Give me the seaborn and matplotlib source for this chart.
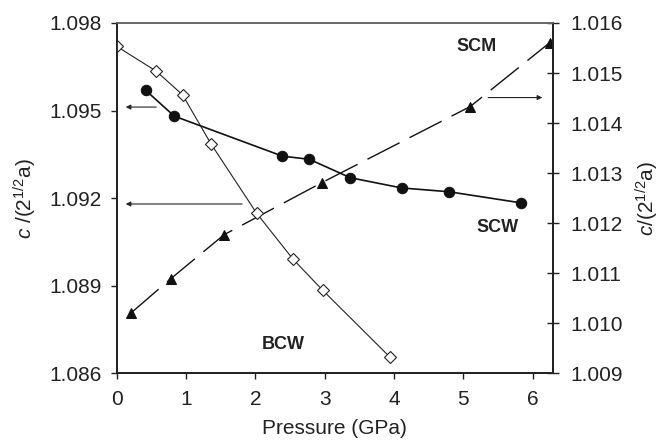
import matplotlib
matplotlib.use("Agg")
import matplotlib.pyplot as plt
import seaborn as sns
import pandas as pd

# BCW (left axis, open diamonds)
bcw_p = [0.0, 0.57, 0.95, 1.36, 2.02, 2.54, 2.97, 3.94]
bcw_r = [1.0972, 1.09635, 1.09554, 1.09386, 1.09148, 1.08992, 1.08885, 1.08656]
# SCW (left axis, filled circles)
scw_p = [0.42, 0.83, 2.39, 2.78, 3.37, 4.11, 4.79, 5.83]
scw_r = [1.09569, 1.09481, 1.09344, 1.09333, 1.0927, 1.09235, 1.09222, 1.09184]
# SCM (right axis, filled triangles)
scm_p = [0.21, 0.78, 1.55, 2.96, 5.10, 6.25]
scm_r = [1.01021, 1.01089, 1.01177, 1.01281, 1.01433, 1.01561]

left_ticks = [1.086, 1.089, 1.092, 1.095, 1.098]
right_ticks = [1.009, 1.010, 1.011, 1.012, 1.013, 1.014, 1.015, 1.016]
x_ticks = [0, 1, 2, 3, 4, 5, 6]

sns.set_theme(style="white")
plt.rcParams['font.family'] = ['Liberation Sans', 'DejaVu Sans']
plt.rcParams['mathtext.fontset'] = 'custom'
plt.rcParams['mathtext.rm'] = 'Liberation Sans'
plt.rcParams['mathtext.it'] = 'Liberation Sans:italic'

fig = plt.figure(figsize=(6.6, 4.42), dpi=100)
ax = fig.add_axes([0.1768, 0.1554, 0.6606, 0.7926])
ax2 = ax.twinx()

bcw = pd.DataFrame({"p": bcw_p, "r": bcw_r})
scw = pd.DataFrame({"p": scw_p, "r": scw_r})
scm = pd.DataFrame({"p": scm_p, "r": scm_r})

sns.lineplot(data=bcw, x="p", y="r", ax=ax, color="#222222", lw=0.8,
             marker="D", markersize=6.5, markerfacecolor="white",
             markeredgecolor="#222222", markeredgewidth=0.8,
             estimator=None, sort=False)
sns.lineplot(data=scw, x="p", y="r", ax=ax, color="#111111", lw=1.2,
             marker="o", markersize=7.5, markerfacecolor="#111111",
             markeredgecolor="#111111", estimator=None, sort=False)
sns.lineplot(data=scm, x="p", y="r", ax=ax2, color="#111111", lw=1.0,
             marker="^", markersize=7.5, markerfacecolor="#111111",
             markeredgecolor="#111111", estimator=None, sort=False,
             dashes=False)
ax2.lines[-1].set_dashes((26, 8))

ax.set_xlim(0, 6.29)
ax.set_ylim(1.086, 1.098)
ax2.set_ylim(1.009, 1.016)
ax.set_xticks(x_ticks)
ax.set_yticks(left_ticks)
ax2.set_yticks(right_ticks)
ax.set_yticklabels([f"{v:.3f}" for v in left_ticks])
ax2.set_yticklabels([f"{v:.3f}" for v in right_ticks])

fs = 15
ax.tick_params(axis='x', direction='out', length=4, width=1, colors='#222222',
               labelsize=fs, labelcolor='#222222', pad=8, bottom=True)
ax.tick_params(axis='y', direction='out', length=4.5, width=1, colors='#222222',
               labelsize=fs, labelcolor='#222222', left=True, pad=6)
ax2.tick_params(axis='y', direction='inout', length=9, width=1, colors='#222222',
                labelsize=fs, labelcolor='#222222', right=True, pad=8)

for a in (ax, ax2):
    a.spines['left'].set_color('#222222')
    a.spines['bottom'].set_color('#222222')
    a.spines['right'].set_color('#222222')
    a.spines['top'].set_color('#666666')
    a.spines['left'].set_linewidth(1.3)
    a.spines['bottom'].set_linewidth(1.3)
    a.spines['right'].set_linewidth(1.3)
    a.spines['top'].set_linewidth(1.2)

ax.set_xlabel("Pressure (GPa)", fontsize=fs, color='#222222', labelpad=7)
ax.set_ylabel(r"$c$ /(2$^{1/2}$a)", fontsize=fs, color='#222222', labelpad=8)
ax2.set_ylabel(r"$c$/(2$^{1/2}$a)", fontsize=fs, color='#222222', labelpad=8)

arrow = dict(arrowstyle="-|>", color="#222222", lw=0.8, mutation_scale=7)
ax.annotate("", xy=(0.09, 1.09512), xytext=(0.61, 1.09512), arrowprops=arrow)
ax.annotate("", xy=(0.09, 1.0918), xytext=(1.85, 1.0918), arrowprops=arrow)
ax2.annotate("", xy=(6.18, 1.01451), xytext=(5.32, 1.01451), arrowprops=arrow)

ax.text(5.19, 1.0972, "SCM", fontsize=13, fontweight='bold', ha='center', va='center', color='#222222')
ax.text(5.5, 1.0910, "SCW", fontsize=13, fontweight='bold', ha='center', va='center', color='#222222')
ax.text(2.41, 1.0870, "BCW", fontsize=13, fontweight='bold', ha='center', va='center', color='#222222')

ax.set_zorder(ax2.get_zorder() + 1)
ax.patch.set_visible(False)

fig.savefig("out.png", dpi=100)
